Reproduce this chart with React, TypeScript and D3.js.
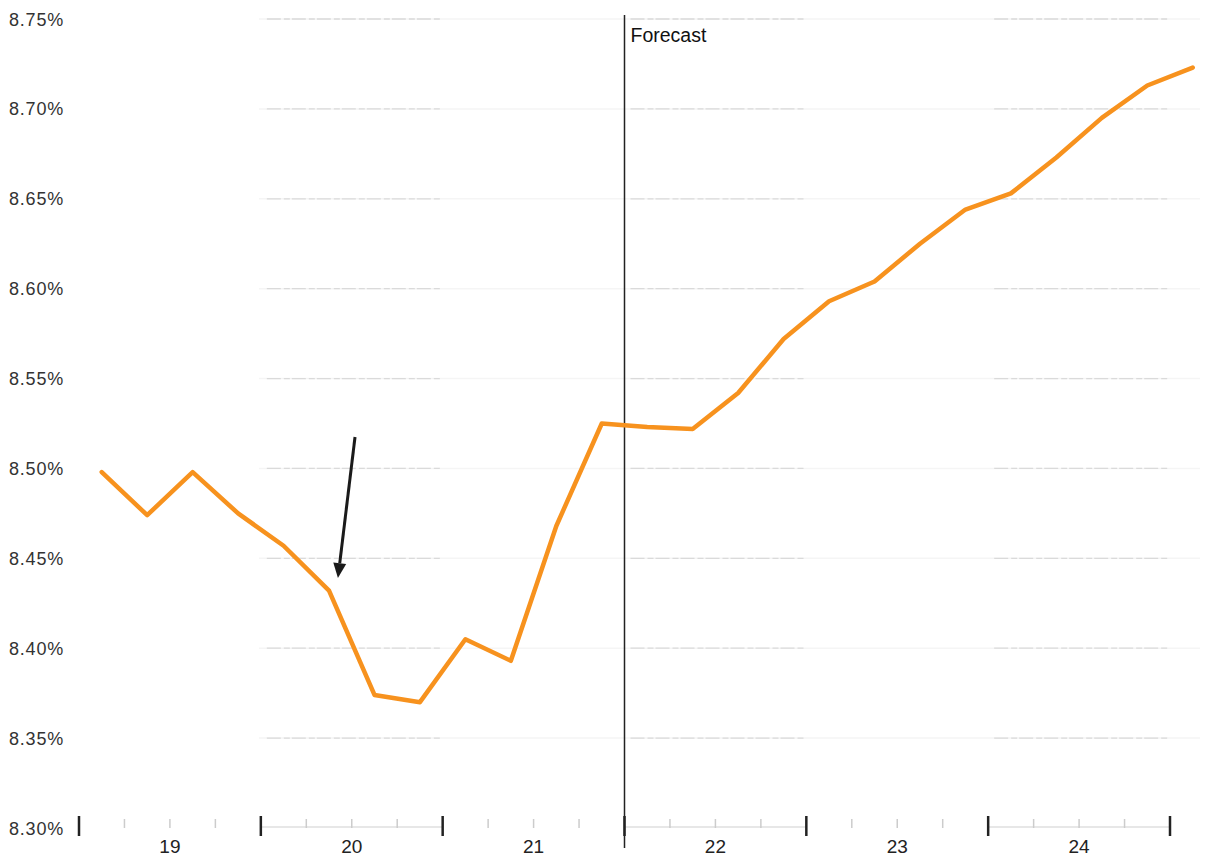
import React from "react";
import * as d3 from "d3";

const years = [19, 20, 21, 22, 23, 24];
const yTicks = [8.3, 8.35, 8.4, 8.45, 8.5, 8.55, 8.6, 8.65, 8.7, 8.75];
// quarterly values, 2019Q1 .. 2025Q1
const quarters = [
  "19Q1", "19Q2", "19Q3", "19Q4",
  "20Q1", "20Q2", "20Q3", "20Q4",
  "21Q1", "21Q2", "21Q3", "21Q4",
  "22Q1", "22Q2", "22Q3", "22Q4",
  "23Q1", "23Q2", "23Q3", "23Q4",
  "24Q1", "24Q2", "24Q3", "24Q4",
  "25Q1",
];
const values = [
  8.498, 8.474, 8.498, 8.475,
  8.457, 8.432, 8.374, 8.370,
  8.405, 8.393, 8.468, 8.525,
  8.523, 8.522, 8.542, 8.572,
  8.593, 8.604, 8.625, 8.644,
  8.653, 8.673, 8.695, 8.713,
  8.723,
];
const forecastStart = 22; // year
const arrowFrom = { t: 20.518, v: 8.5175 };
const arrowTo = { t: 20.424, v: 8.439 };

export default function App() {
  const W = 1214, H = 859;
  const x = d3.scaleLinear().domain([19, 25]).range([79, 1170]);
  const y = d3.scaleLinear().domain([8.3, 8.75]).range([828, 19]);
  const pts = values.map((v, i) => ({ t: 19 + (i + 0.5) / 4, v }));
  const line = d3.line<{ t: number; v: number }>().x(d => x(d.t)).y(d => y(d.v));
  const strongYears = [20, 22, 24];
  const font = "'Liberation Sans', Arial, sans-serif";
  const ax1 = x(arrowFrom.t), ay1 = y(arrowFrom.v), ax2 = x(arrowTo.t), ay2 = y(arrowTo.v);
  const ang = Math.atan2(ay2 - ay1, ax2 - ax1);
  const hl = 15, hw = 6.5;
  const bx = ax2 - hl * Math.cos(ang), by = ay2 - hl * Math.sin(ang);
  const head = `M${ax2},${ay2} L${bx + hw * Math.sin(ang)},${by - hw * Math.cos(ang)} L${bx - hw * Math.sin(ang)},${by + hw * Math.cos(ang)} Z`;
  const axisY = y(8.3) - 3;
  return (
    <svg width={W} height={H} style={{ display: "block", position: "absolute", left: 0, top: 0, background: "#fff" }}>
      {/* gridlines */}
      {yTicks.slice(1).map(tk => (
        <g key={tk}>
          <line x1={x(19) + 180} x2={x(25) + 30} y1={y(tk)} y2={y(tk)} stroke="#f5f5f5" strokeWidth={1.5} />
          {strongYears.map(yr => (
            <line key={yr} x1={x(yr) + 6} x2={x(yr + 1) - 2} y1={y(tk)} y2={y(tk)} stroke="#dadada" strokeWidth={1.3} strokeDasharray="14 3 6 2" />
          ))}
        </g>
      ))}
      {/* y labels */}
      {yTicks.map(tk => (
        <text key={tk} x={9} y={y(tk) + 6.5} fontFamily={font} fontSize={18} letterSpacing={0.8} fill="#333">
          {d3.format(".2f")(tk)}%
        </text>
      ))}
      {/* x axis baseline segments */}
      {strongYears.map(yr => (
        <line key={yr} x1={x(yr)} x2={x(yr + 1)} y1={axisY + 2} y2={axisY + 2} stroke="#cfcfcf" strokeWidth={1.2} />
      ))}
      {/* minor ticks */}
      {d3.range(19, 25).flatMap(yr => [1, 2, 3].map(q => (
        <line key={`${yr}-${q}`} x1={x(yr + q / 4)} x2={x(yr + q / 4)} y1={axisY - 6} y2={axisY + 3} stroke="#cccccc" strokeWidth={1.5} />
      )))}
      {/* major ticks */}
      {d3.range(19, 26).map(yr => (
        <line key={yr} x1={x(yr)} x2={x(yr)} y1={axisY - 9} y2={axisY + 11} stroke="#222" strokeWidth={2.5} />
      ))}
      {/* x labels */}
      {years.map(yr => (
        <text key={yr} x={x(yr + 0.5)} y={853} textAnchor="middle" fontFamily={font} fontSize={19} fill="#222">
          {yr}
        </text>
      ))}
      {/* forecast line */}
      <line x1={x(forecastStart)} x2={x(forecastStart)} y1={15} y2={848} stroke="#222" strokeWidth={1.5} />
      <text x={x(forecastStart) + 6} y={42} fontFamily={font} fontSize={19.5} fill="#111">Forecast</text>
      {/* series */}
      <path d={line(pts) ?? ""} fill="none" stroke="#f7921e" strokeWidth={4.5} strokeLinejoin="round" strokeLinecap="round" />
      {/* arrow */}
      <line x1={ax1} y1={ay1} x2={bx} y2={by} stroke="#1a1a1a" strokeWidth={3} />
      <path d={head} fill="#1a1a1a" />
    </svg>
  );
}
